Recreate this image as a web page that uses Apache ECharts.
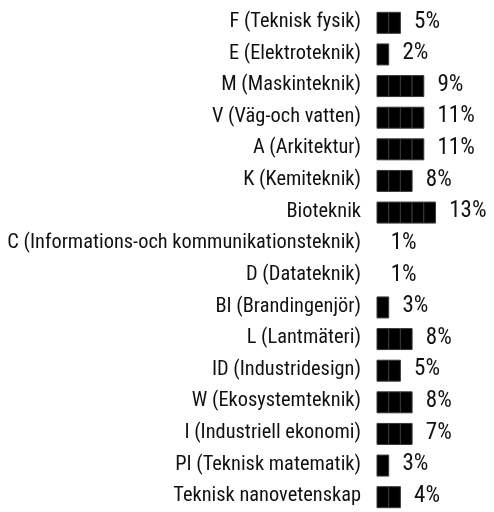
<!DOCTYPE html>
<html><head><meta charset="utf-8">
<script src="https://cdn.jsdelivr.net/npm/echarts@6/dist/echarts.min.js"></script>
<style>html,body{margin:0;padding:0;background:#fff}#c{width:494px;height:512px}</style>
</head><body><div id="c"></div>
<script>
const categories = ["F (Teknisk fysik)","E (Elektroteknik)","M (Maskinteknik)","V (Väg-och vatten)","A (Arkitektur)","K (Kemiteknik)","Bioteknik","C (Informations-och kommunikationsteknik)","D (Datateknik)","BI (Brandingenjör)","L (Lantmäteri)","ID (Industridesign)","W (Ekosystemteknik)","I (Industriell ekonomi)","PI (Teknisk matematik)","Teknisk nanovetenskap"];
const values = [5,2,9,11,11,8,13,1,1,3,8,5,8,7,3,4];
const blockUnit = 2.5;
const FONT = '"Roboto Condensed","Liberation Sans Narrow","DejaVu Sans Condensed",Roboto,sans-serif';

const chart = echarts.init(document.getElementById('c'));
chart.setOption({
  animation: false,
  grid: {left: 377, top: 6, width: 128, height: 508},
  xAxis: {type: 'value', min: 0, max: 25, show: false},
  yAxis: {type: 'category', data: categories, inverse: true,
    axisLine: {show: false}, axisTick: {show: false}, splitLine: {show: false},
    axisLabel: {color: '#111', fontSize: 20.4, fontFamily: FONT, margin: 16}},
  series: [{
    type: 'custom',
    data: values.map((v, i) => [v, i]),
    encode: {x: 0, y: 1},
    renderItem: function (params, api) {
      const v = api.value(0), idx = api.value(1);
      const n = Math.round(v / blockUnit);
      const p = api.coord([0, idx]);
      const bw = api.size([blockUnit, 0])[0];
      const bh = 21;
      const children = [];
      for (let i = 0; i < n; i++) {
        children.push({type: 'rect', shape: {x: p[0] + i * bw, y: p[1] - bh / 2 + 1, width: bw, height: bh},
          style: {fill: '#000', stroke: '#3a3a3a', lineWidth: 1}});
      }
      children.push({type: 'text', x: p[0] + (n + 1) * bw + 2, y: p[1],
        style: {text: v + '%', fill: '#111', font: '23px ' + FONT, textAlign: 'left', textVerticalAlign: 'middle'}});
      return {type: 'group', children: children};
    }
  }]
});
</script></body></html>
